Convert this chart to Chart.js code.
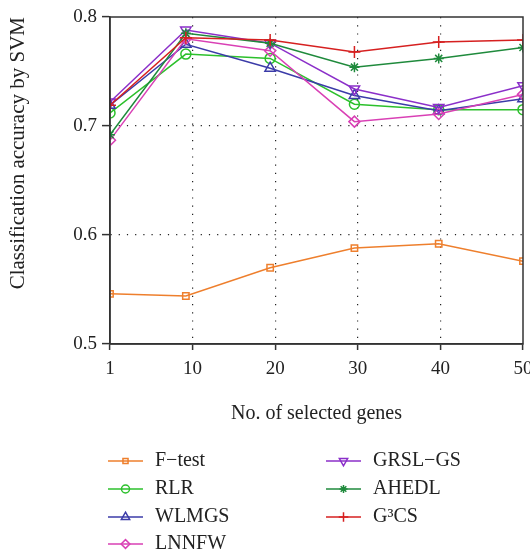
<!DOCTYPE html>
<html>
<head>
<meta charset="utf-8">
<script src="https://cdn.jsdelivr.net/npm/chart.js@4.4.0/dist/chart.umd.min.js"></script>
<style>
  html, body { margin: 0; padding: 0; background: #fff; overflow: hidden; }
  #wrap { width: 530px; height: 555px; overflow: hidden; }
</style>
</head>
<body>
<div id="wrap"><canvas id="chart" width="545" height="555"></canvas></div>
<script>
const genes = [1, 10, 20, 30, 40, 50];
const xTickLabels = ['1', '10', '20', '30', '40', '50'];
const yTicks = [0.5, 0.6, 0.7, 0.8];

const fTest  = [0.546, 0.544, 0.570, 0.588, 0.592, 0.576];
const rlr    = [0.712, 0.766, 0.762, 0.720, 0.715, 0.715];
const wlmgs  = [0.719, 0.775, 0.753, 0.728, 0.714, 0.725];
const lnnfw  = [0.687, 0.780, 0.769, 0.704, 0.711, 0.729];
const grslGs = [0.722, 0.788, 0.776, 0.734, 0.717, 0.737];
const ahedl  = [0.692, 0.785, 0.776, 0.754, 0.762, 0.772];
const g3cs   = [0.719, 0.781, 0.779, 0.768, 0.777, 0.779];

const seriesNames = ['F\u2212test', 'RLR', 'WLMGS', 'LNNFW', 'GRSL\u2212GS', 'AHEDL', 'G\u00b3CS'];
const seriesValues = [fTest, rlr, wlmgs, lnnfw, grslGs, ahedl, g3cs];
const colors = ['#ee7f2d', '#2cc02c', '#3b3ba8', '#d940b5', '#8b2fc9', '#1f8a3c', '#d62020'];
const markers = [
  { pointStyle: 'rect', radius: 4.5, rotation: 0 },
  { pointStyle: 'circle', radius: 5, rotation: 0 },
  { pointStyle: 'triangle', radius: 6, rotation: 0 },
  { pointStyle: 'rectRot', radius: 5.5, rotation: 0 },
  { pointStyle: 'triangle', radius: 6, rotation: 180 },
  { pointStyle: 'star', radius: 5, rotation: 0 },
  { pointStyle: 'cross', radius: 6, rotation: 0 }
];

const FONT = "'Liberation Serif', 'DejaVu Serif', serif";

const datasets = seriesNames.map((name, i) => ({
  label: name,
  data: genes.map((g, j) => ({ x: g, y: seriesValues[i][j] })),
  borderColor: colors[i],
  backgroundColor: 'rgba(255,255,255,0)',
  borderWidth: 1.5,
  pointStyle: markers[i].pointStyle,
  pointRadius: markers[i].radius,
  pointRotation: markers[i].rotation,
  pointBorderWidth: 1.5,
  pointBorderColor: colors[i],
  pointBackgroundColor: 'rgba(255,255,255,0)',
  tension: 0,
  order: seriesNames.length - i
}));

// the original figure spaces its tick labels evenly along the axis
const xMin = genes[0], xMax = genes[genes.length - 1];
const xTickPos = xTickLabels.map((_, k) => xMin + k * (xMax - xMin) / (xTickLabels.length - 1));
const isEdge = v => Math.abs(v - xMin) < 1e-6 || Math.abs(v - xMax) < 1e-6;

// box around the plot area
const frame = {
  id: 'frame',
  afterDatasetsDraw(chart) {
    const { ctx, chartArea: a } = chart;
    ctx.save();
    ctx.strokeStyle = '#333';
    ctx.lineWidth = 1.5;
    ctx.strokeRect(a.left, a.top, a.right - a.left, a.bottom - a.top);
    ctx.restore();
  }
};

// two-column legend below the axis title
const legendCols = {
  id: 'legendCols',
  afterDraw(chart) {
    const ctx = chart.ctx;
    const cols = [108, 326];
    const rowY = [461, 489, 517, 544];
    ctx.save();
    chart.data.datasets.forEach((ds, i) => {
      const col = i < 4 ? 0 : 1;
      const row = i < 4 ? i : i - 4;
      const x = cols[col], y = rowY[row];
      ctx.strokeStyle = ds.borderColor;
      ctx.lineWidth = 1.5;
      ctx.beginPath();
      ctx.moveTo(x, y);
      ctx.lineTo(x + 35, y);
      ctx.stroke();
      ctx.fillStyle = 'rgba(255,255,255,0)';
      Chart.helpers.drawPoint(ctx, {
        pointStyle: ds.pointStyle,
        rotation: ds.pointRotation,
        radius: ds.pointRadius * 0.8,
        borderWidth: 1.5
      }, x + 17.5, y);
      ctx.fillStyle = '#222';
      ctx.font = '20px ' + FONT;
      ctx.textBaseline = 'middle';
      ctx.textAlign = 'left';
      ctx.fillText(ds.label, x + 47, y);
    });
    ctx.restore();
  }
};

new Chart(document.getElementById('chart'), {
  type: 'line',
  data: { datasets },
  plugins: [frame, legendCols],
  options: {
    responsive: false,
    animation: false,
    layout: { padding: { top: 17, right: 22, bottom: 126, left: 0 } },
    plugins: {
      legend: { display: false },
      tooltip: { enabled: false }
    },
    scales: {
      x: {
        type: 'linear',
        min: xMin,
        max: xMax,
        afterBuildTicks: scale => { scale.ticks = xTickPos.map(v => ({ value: v })); },
        afterFit: scale => { scale.height = 85; },
        ticks: {
          color: '#222',
          font: { family: FONT, size: 19 },
          padding: 8,
          maxRotation: 0,
          callback: (v, i) => xTickLabels[i]
        },
        grid: {
          color: ctx => (ctx.tick && isEdge(ctx.tick.value)) ? 'rgba(0,0,0,0)' : '#222',
          lineWidth: 1.2,
          tickColor: '#333',
          tickLength: 6,
          tickWidth: 1.5
        },
        border: { color: '#333', width: 1.5, dash: [1.2, 7] },
        title: {
          display: true,
          text: 'No. of selected genes',
          color: '#222',
          font: { family: FONT, size: 20 },
          padding: { top: 0, bottom: 3 }
        }
      },
      y: {
        min: 0.5,
        max: 0.8,
        afterBuildTicks: scale => { scale.ticks = yTicks.map(v => ({ value: v })); },
        afterFit: scale => { scale.width = 110; },
        ticks: {
          color: '#222',
          font: { family: FONT, size: 19 },
          padding: 5,
          callback: v => Number(v).toFixed(1)
        },
        grid: {
          color: ctx => (ctx.tick && (ctx.tick.value === 0.5 || ctx.tick.value === 0.8)) ? 'rgba(0,0,0,0)' : '#222',
          lineWidth: 1.2,
          tickColor: '#333',
          tickLength: 8,
          tickWidth: 1.5
        },
        border: { color: '#333', width: 1.5, dash: [1.2, 7] },
        title: {
          display: true,
          text: 'Classification accuracy by SVM',
          align: 'end',
          color: '#222',
          font: { family: FONT, size: 21 },
          padding: { top: 6, bottom: 0 }
        }
      }
    }
  }
});
</script>
</body>
</html>
